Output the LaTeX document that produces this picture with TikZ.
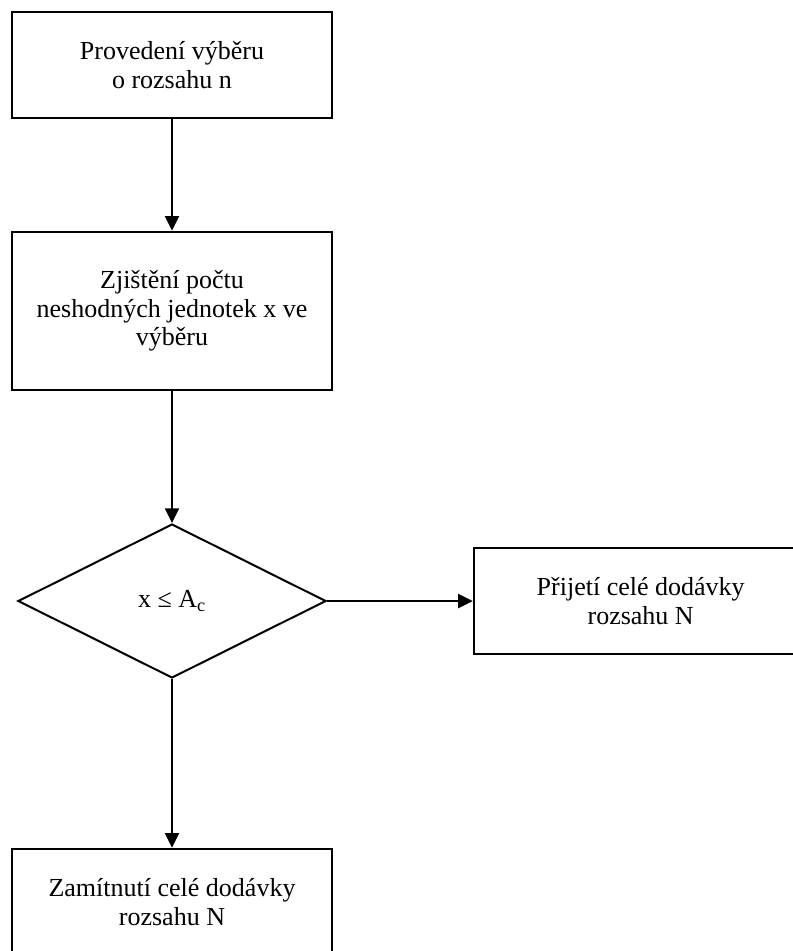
\documentclass[tikz,border=0pt]{standalone}
\usepackage{fontspec}
\setmainfont{Liberation Serif}
\usetikzlibrary{shapes.geometric,arrows.meta}
\tikzset{
	krok/.style={draw,line width=1.8pt,rectangle,minimum width=240pt,minimum height=79.5pt,inner sep=0pt,align=center,font=\fontsize{19.5}{21.5}\selectfont},
	podminka/.style={draw,line width=1.5pt,diamond,aspect=2,minimum width=231pt,minimum height=115.5pt,inner sep=0pt,font=\fontsize{19.5}{21.5}\selectfont},
	sipka/.style={line width=1.6pt,-{Triangle[length=11pt,width=10.5pt]}}
}
\begin{document}
\begin{tikzpicture}[x=0.75pt,y=-0.75pt]
		\useasboundingbox (0,0) rectangle (793,951);
		%boxes
		\node[krok] (vyber) at (172,65) {Provedení výběru\\o rozsahu n};
		\node[krok,minimum height=118.5pt] (zjisteni) at (172,311) {Zjištění počtu\\neshodných jednotek x ve\\výběru};
		\node[podminka] (rozhod) at (172,601) {x ≤ A\textsubscript{c}};
		\node[krok,minimum width=250pt] (prijeti) at (640.7,601) {Přijetí celé dodávky\\rozsahu N};
		\node[krok] (zamitnuti) at (172,902) {Zamítnutí celé dodávky\\rozsahu N};
		%arrows
		\draw[sipka] (vyber.south) -- (zjisteni.north);
		\draw[sipka] (zjisteni.south) -- (rozhod.north);
		\draw[sipka] (rozhod.east) -- (prijeti.west);
		\draw[sipka] (rozhod.south) -- (zamitnuti.north);
\end{tikzpicture}
\end{document}
